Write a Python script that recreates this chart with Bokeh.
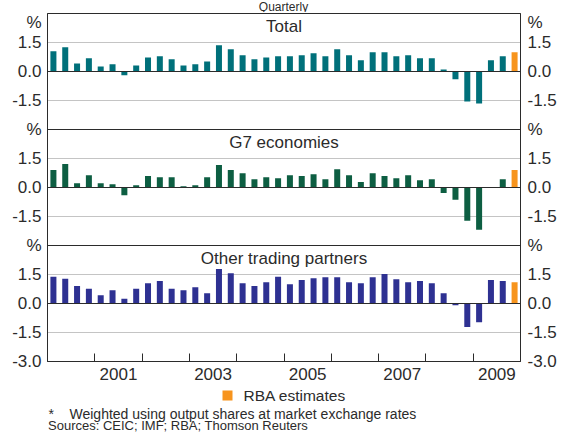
from bokeh.plotting import figure
from bokeh.layouts import column
from bokeh.models import (Range1d, FixedTicker, LinearAxis, Span, Label,
                          ColumnDataSource)
from bokeh.core.properties import value
from bokeh.embed import file_html
from bokeh.resources import INLINE

# ---------------- data ----------------
years = list(range(2000, 2010))
quarters = [f"{y}Q{q}" for y in years for q in range(1, 5)]

total = [1.05, 1.26, 0.42, 0.68, 0.26, 0.37, -0.19, 0.31, 0.73, 0.79,
         0.63, 0.31, 0.37, 0.52, 1.36, 1.15, 0.84, 0.63, 0.73, 0.79,
         0.79, 0.84, 0.94, 0.79, 1.15, 0.84, 0.58, 1.00, 1.00, 0.79,
         0.84, 0.68, 0.68, 0.10, -0.40, -1.55, -1.66, 0.58, 0.79, 1.00]
g7 = [0.90, 1.21, 0.22, 0.64, 0.22, 0.17, -0.40, 0.12, 0.59, 0.53,
      0.53, 0.07, 0.12, 0.53, 1.16, 0.90, 0.74, 0.43, 0.53, 0.48,
      0.64, 0.59, 0.69, 0.43, 0.95, 0.64, 0.28, 0.74, 0.59, 0.48,
      0.64, 0.38, 0.43, -0.28, -0.64, -1.72, -2.19, 0.00, 0.43, 0.90]
other = [1.38, 1.28, 0.90, 0.76, 0.43, 0.69, 0.24, 0.76, 1.05, 1.17,
         0.76, 0.69, 0.84, 0.53, 1.79, 1.57, 1.05, 0.90, 1.10, 1.38,
         1.00, 1.22, 1.31, 1.36, 1.36, 1.10, 1.05, 1.36, 1.52, 1.26,
         1.10, 1.16, 1.05, 0.53, -0.09, -1.21, -0.97, 1.22, 1.16, 1.10]

panel_names = ["Total", "G7 economies", "Other trading partners"]
panel_series = [total, g7, other]
estimate_quarters = ["2009Q4"]
year_labels = ["2001", "2003", "2005", "2007", "2009"]
y_tick_values = [-1.5, 0.0, 1.5]
legend_label = "RBA estimates"
chart_title = "Quarterly"
footnote_mark = "*"
footnote_text = "Weighted using output shares at market exchange rates"
sources_text = "Sources: CEIC; IMF; RBA; Thomson Reuters"

# ---------------- styles ----------------
FONT = "Liberation Sans"
TXT = "#2b2b2b"
panel_colors = ["#00707a", "#0d5e42", "#2e3192"]
est_color = "#f7941d"
offsets = [12.0, 6.0, 0.0]  # zero line of each panel (each covers -3..3)
W = 565
FRAME_L, FRAME_R = 47, 520   # frames of all stacked figures are aligned


def qpos(q):
    y, n = q.split("Q")
    return int(y) + (int(n) - 0.5) / 4.0


def blank_fig(h):
    f = figure(width=W, height=h, x_range=Range1d(FRAME_L, FRAME_R),
               y_range=Range1d(h, 0), output_backend="svg",
               toolbar_location=None, x_axis_type=None, y_axis_type=None,
               min_border_left=FRAME_L, min_border_right=W - FRAME_R,
               min_border_top=0, min_border_bottom=0)
    f.outline_line_color = None
    f.xgrid.visible = False
    f.ygrid.visible = False
    f.background_fill_color = "white"
    f.border_fill_color = "white"
    return f


# ---------------- top strip (title) ----------------
top = blank_fig(12)
top.add_layout(Label(x=283, y=6, text=chart_title, text_font=FONT,
                     text_font_size="12px", text_color=TXT,
                     text_align="center", text_baseline="middle"))

# ---------------- main chart ----------------
p = figure(width=W, height=376, x_range=Range1d(2000, 2010),
           y_range=Range1d(-3, 15), output_backend="svg", toolbar_location=None,
           min_border_left=FRAME_L, min_border_right=W - FRAME_R,
           min_border_top=1, min_border_bottom=27)
p.background_fill_color = "white"
p.border_fill_color = "white"
p.outline_line_color = TXT
p.outline_line_width = 1

bar_w = 0.127
est_x, est_top, est_bottom = [], [], []
for name, series, col, off in zip(panel_names, panel_series, panel_colors, offsets):
    xs, tops, bottoms = [], [], []
    for q, v in zip(quarters, series):
        if q in estimate_quarters:
            est_x.append(qpos(q)); est_top.append(v + off); est_bottom.append(off)
        else:
            xs.append(qpos(q)); tops.append(v + off); bottoms.append(off)
    src = ColumnDataSource(dict(x=xs, top=tops, bottom=bottoms))
    p.vbar(x="x", top="top", bottom="bottom", width=bar_w, source=src,
           fill_color=col, line_color=None)
    p.text(x=[2005], y=[off + 3 - 0.66], text=[name], text_align="center",
           text_baseline="middle", text_font=value(FONT),
           text_font_size="17px", text_color=TXT)

est_src = ColumnDataSource(dict(x=est_x, top=est_top, bottom=est_bottom))
p.vbar(x="x", top="top", bottom="bottom", width=bar_w, source=est_src,
       fill_color=est_color, line_color=None)

for off in offsets:
    p.add_layout(Span(location=off, dimension="width", line_color=TXT, line_width=1))
for b in [3.0, 9.0]:
    p.add_layout(Span(location=b, dimension="width", line_color=TXT, line_width=1))

grid_ticks = [off + v for off in offsets for v in y_tick_values if v != 0]
p.xgrid.visible = False
p.ygrid.ticker = FixedTicker(ticks=grid_ticks)
p.ygrid.grid_line_color = "#c4c4c4"
p.ygrid.grid_line_width = 1

ticks, overrides = [], {}
for off in offsets:
    for v in y_tick_values:
        t = off + v
        ticks.append(t); overrides[t] = f"{v:.1f}"
top_pct = 15 - 0.35
for t in [3.0, 9.0, top_pct]:
    ticks.append(t); overrides[t] = "%"
ticks.append(-3.0); overrides[-3.0] = "-3.0"
ticks = sorted(ticks)


def style_y(ax, standoff):
    ax.ticker = FixedTicker(ticks=ticks)
    ax.major_label_overrides = overrides
    ax.major_tick_line_color = None
    ax.minor_tick_line_color = None
    ax.major_tick_in = 0
    ax.major_tick_out = 0
    ax.axis_line_color = TXT
    ax.major_label_standoff = standoff
    ax.major_label_text_font = FONT
    ax.major_label_text_font_size = "17px"
    ax.major_label_text_color = TXT


style_y(p.yaxis[0], 6)
right = LinearAxis()
style_y(right, 7)
p.add_layout(right, "right")

xa = p.xaxis[0]
xa.ticker = FixedTicker(ticks=[int(y) + 0.5 for y in year_labels],
                        minor_ticks=[float(y) for y in years[1:]])
xa.major_label_overrides = {int(y) + 0.5: y for y in year_labels}
xa.major_tick_line_color = None
xa.major_tick_in = 0
xa.major_tick_out = 0
xa.minor_tick_in = 8
xa.minor_tick_out = 0
xa.minor_tick_line_color = TXT
xa.axis_line_color = TXT
xa.major_label_standoff = 6
xa.major_label_text_font = FONT
xa.major_label_text_font_size = "17px"
xa.major_label_text_color = TXT

# ---------------- bottom strip (legend + notes) ----------------
bot = blank_fig(48)
# legend swatch and label (strip coordinates: x = page px, y = px from strip top)
bot.rect(x=[227], y=[7], width=10, height=10, width_units="screen",
         height_units="screen", fill_color=est_color, line_color=None)
bot.add_layout(Label(x=243, y=7, text=legend_label, text_font=FONT,
                     text_font_size="15.5px", text_color=TXT,
                     text_align="left", text_baseline="middle"))


def note(x, y, txt, size):
    bot.add_layout(Label(x=x, y=y, text=txt, text_font=FONT,
                         text_font_size=size, text_color=TXT,
                         text_align="left", text_baseline="middle"))


note(48, 25, footnote_mark, "14px")
note(69, 25, footnote_text, "14px")
note(47.5, 37, sources_text, "13px")

layout = column(top, p, bot, spacing=0)
open("out.html", "w").write(file_html(layout, INLINE))
